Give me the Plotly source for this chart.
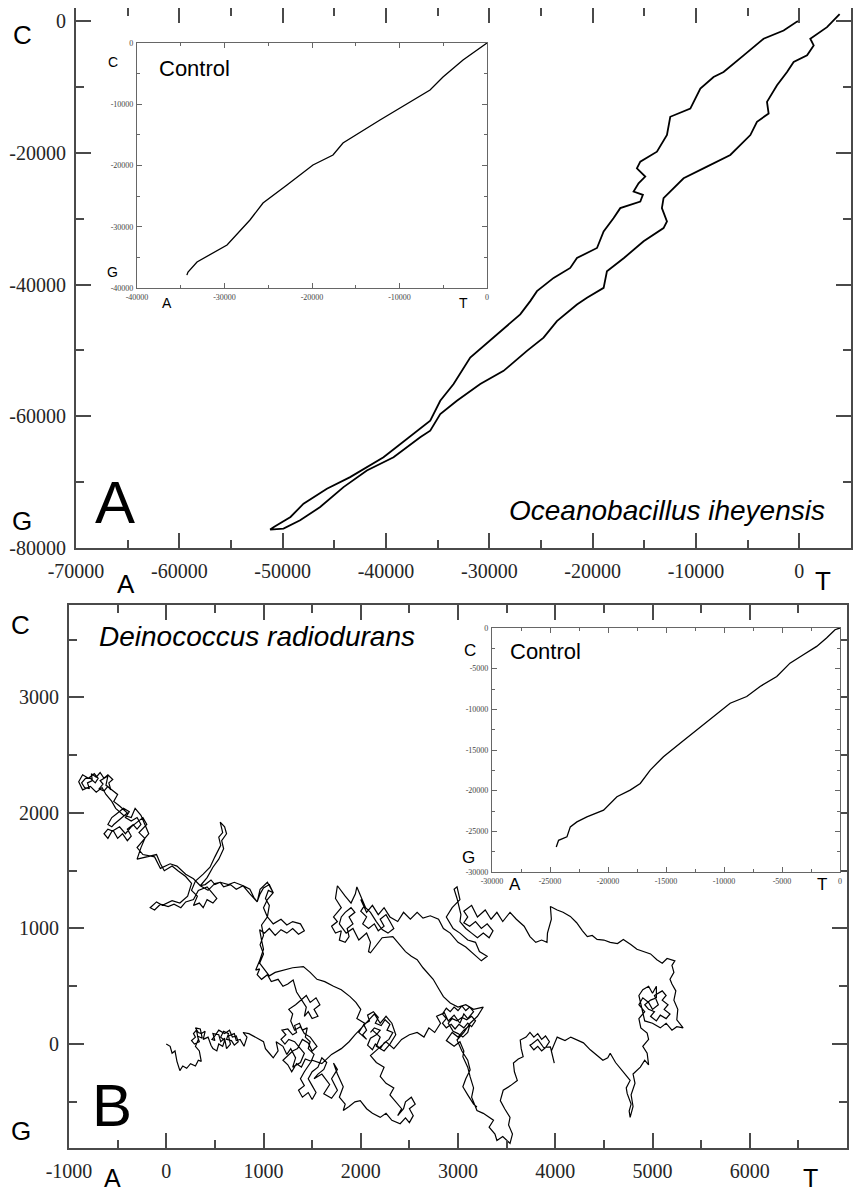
import plotly.graph_objects as go

# page is 862x1197; the html body adds an 8px margin, so the figure is 8px smaller on each axis
PAGE_OFF = 8
W, H = 862 - PAGE_OFF, 1197 - PAGE_OFF

# ---------------- Panel A : Oceanobacillus iheyensis (main walk) ----------------
a_walk_x = [0, -220, -1520, -3460, -5390, -7330, -8300, -9580, -10550, -12490,
            -12810, -13780, -15390, -15720, -14910, -15560, -16040, -15140, -15390, -17330,
            -17970, -18940, -19580, -21520, -22170, -23780, -25390, -26040, -27010, -29260,
            -31850, -33460, -34750, -35720, -37330, -40240, -43470, -45720, -47980, -49240,
            -50850, -51210,
            -49920, -48310, -46370, -44110, -41850, -39270, -36690, -35720, -34750, -33140,
            -30880, -28620, -26360, -24750, -23460, -21520, -20550, -18940, -18620, -16970,
            -15070, -13140, -12810, -13300, -13140, -11200, -8940, -6680, -4740, -4100,
            -2970, -3130, -2160, -1190, -550, 750, 1390, 1060, 2680, 3900]
a_walk_y = [0, -50, -1410, -2670, -5190, -7720, -8470, -10240, -13270, -14520,
            -17290, -19820, -21330, -22340, -23600, -24610, -25870, -26370, -27380, -28390,
            -29900, -31920, -34440, -35960, -37470, -38980, -41000, -42510, -44520, -47550,
            -51080, -55110, -57640, -60670, -62680, -66220, -69240, -71000, -73270, -75290,
            -76800, -77200,
            -77050, -75790, -73780, -70750, -68230, -66220, -63190, -62180, -59650, -57640,
            -55110, -53100, -50070, -48060, -45540, -43020, -42010, -40500, -37970, -35960,
            -33430, -31420, -30410, -28390, -26880, -23860, -22090, -20320, -17290, -15280,
            -14020, -12250, -9730, -7720, -6200, -5190, -3680, -2670, -910, 1060]

# Panel A inset : control
a_ctrl_x = [-34300, -34170, -33140, -29710, -27090, -25600, -22860, -19890, -17600, -16460,
            -12230, -6510, -5030, -2740, 0]
a_ctrl_y = [-37900, -37390, -35750, -32980, -28900, -26120, -23180, -19920, -18290, -16330,
            -12570, -7670, -5550, -2780, 0]

# tick values / labels
a_xticks = [-70000, -60000, -50000, -40000, -30000, -20000, -10000, 0]
a_yticks = [-80000, -60000, -40000, -20000, 0]
a_in_ticks = [-40000, -30000, -20000, -10000, 0]
b_xticks = [-1000, 0, 1000, 2000, 3000, 4000, 5000, 6000, 7000]
b_yticks = [0, 1000, 2000, 3000]
b_in_ticks = [-30000, -25000, -20000, -15000, -10000, -5000, 0]

# ---------------- Panel B : Deinococcus radiodurans (main walk, in segments) ----------------
b_s1_x = [0, 40, 60, 90, 110, 140, 170, 210, 250, 300, 330, 360, 340, 300, 330, 310, 360, 400, 380, 430,
          460, 500, 480, 540, 560, 600, 620, 660, 640, 700, 720, 760, 800, 830, 790, 850, 900, 960, 1000, 1020,
          1060, 1100]
b_s1_y = [0, -20, -80, -60, -150, -230, -190, -210, -170, -190, -140, -150, -60, -20, 40, 120, 90, 110, 40, 60,
          -10, 30, 90, 80, 20, 50, -40, 0, 70, 90, 30, 40, -20, 60, 100, 90, 70, 40, 20, -40,
          -80, -120]

b_s2_x = [1150, 1130, 1200, 1240, 1280, 1330, 1300, 1380, 1420, 1360, 1400, 1460, 1500, 1550, 1480, 1420,
          1380, 1320, 1280, 1300, 1260, 1330, 1380, 1340, 1305, 1250, 1200, 1150, 1080, 1040, 980, 935,
          960, 920, 960, 1000, 980, 960]
b_s2_y = [-60, 20, -20, -90, -40, -120, -200, -160, -80, -20, 40, 10, -60, -20, 60, 90,
          150, 120, 200, 260, 300, 340, 380, 450, 555, 520, 500, 560, 540, 600, 560, 600,
          650, 640, 720, 820, 900, 990]

b_s3a_x = [1010, 1060, 1120, 1180, 1240, 1300, 1360, 1420, 1380, 1300, 1240, 1180, 1100, 1040, 1060, 1020,
           1050, 1100, 1060, 1000, 965, 935, 900, 860, 790, 720, 660, 590, 555, 500, 460, 400, 350]
b_s3a_y = [960, 1000, 940, 990, 960, 1000, 950, 980, 1040, 1060, 1030, 1080, 1040, 1100, 1200, 1260,
           1330, 1310, 1380, 1350, 1300, 1230, 1270, 1340, 1370, 1340, 1380, 1360, 1400, 1380, 1420, 1380, 1370]

b_s3b_x = [420, 480, 540, 590, 570, 620, 600, 555, 580, 540, 560, 500, 450, 380, 300, 260, 320, 280, 340, 380,
           420, 480, 520, 470, 420, 330, 280, 200, 150, 80, 20, -60, -120, -165, -100, -40, 60, 140, 220, 260, 200]
b_s3b_y = [1440, 1530, 1600, 1690, 1760, 1820, 1880, 1920, 1830, 1790, 1720, 1620, 1530, 1470, 1410, 1330, 1280,
           1200, 1220, 1180, 1250, 1220, 1260, 1310, 1360, 1330, 1250, 1230, 1180, 1210, 1190, 1210, 1160, 1180,
           1230, 1200, 1240, 1220, 1280, 1390, 1450]

b_s3c_x = [120, 60, -20, -60, -100, -200, -300, -260, -220, -280, -200, -240, -300, -360, -420, -480, -560, -600,
           -540, -460, -400, -480, -540, -500, -560, -620, -600, -680, -740, -800, -860, -900, -860, -780, -720,
           -660, -620, -560, -520, -440, -360, -320, -260, -220, -180, -240, -300, -240, -120, -60, 40, 110, 200,
           280, 350]
b_s3c_y = [1500, 1540, 1500, 1560, 1640, 1620, 1600, 1700, 1780, 1830, 1900, 1960, 1920, 1880, 1820, 1880, 1840,
           1780, 1900, 1960, 2000, 2060, 2100, 2160, 2200, 2240, 2320, 2280, 2340, 2300, 2330, 2270, 2200, 2230,
           2180, 2220, 2160, 2100, 2040, 1980, 1960, 2040, 1980, 1900, 1820, 1760, 1700, 1640, 1620, 1520, 1560,
           1540, 1470, 1430, 1370]

b_s3d_x = [430, 500, 555, 640, 700, 790, 860, 935, 965, 1040, 1100, 1040, 1000, 1040, 980, 1000, 965, 1000,
           960, 1010, 1060, 1120]
b_s3d_y = [1330, 1390, 1400, 1380, 1400, 1370, 1300, 1230, 1340, 1400, 1310, 1250, 1180, 1100, 1030, 940, 860,
           780, 700, 640, 590, 620]

b_s4_x = [1200, 1300, 1410, 1480, 1550, 1630, 1720, 1800, 1890, 1950, 2000, 1960, 2040, 1980, 2060, 2120, 2200,
          2160, 2240, 2300, 2360, 2320, 2260, 2200, 2140, 2080, 2020, 1940, 1880, 1800,
          1700, 1600, 1500, 1420, 1520, 1600, 1680, 1620, 1700, 1760, 1700, 1760,
          1720, 1760, 1820, 1780, 1840, 1820, 1880, 1940, 1995, 2060, 2120, 2200, 2260, 2320, 2405, 2380, 2420,
          2360, 2300, 2340, 2260, 2200, 2240, 2160, 2100, 2180, 2260, 2340, 2420, 2500, 2580]
b_s4_y = [640, 660, 670, 620, 560, 540, 500, 470, 410, 360, 300, 220, 180, 100, 40, 120, 60,
          -20, -60, 0, 80, 180, 240, 180, 260, 200, 150, 80, 20, -40,
          -90, -170, -140, -240, -300, -260, -350, -430, -470, -400, -300, -220,
          -165, -260, -370, -460, -520, -575, -540, -500, -490, -560, -600, -635, -600, -660, -690, -620, -560,
          -500, -440, -380, -340, -280, -200, -160, -100, -40, 20, -40, 40, 80, 100]

b_s5_x = [2650, 2700, 2760, 2820, 2780, 2860, 2900, 2960, 3020, 3060, 3100, 3160, 3120, 3060, 3000, 2940, 2880,
          2960, 3020, 3060, 3050, 3100, 3125, 3160, 3140, 3195, 3260, 3330, 3365, 3320, 3380, 3400, 3460, 3535,
          3560, 3520, 3535, 3480, 3435, 3465, 3540, 3610, 3580, 3570, 3620, 3670, 3650, 3640, 3700, 3760, 3820,
          3880, 3950, 3980, 3990, 3960, 4020, 4100, 4160, 4225, 4290, 4360, 4420, 4490, 4540, 4565, 4620, 4700,
          4770, 4730, 4740, 4780, 4760, 4770, 4800, 4780, 4820, 4800, 4875, 4920, 4960, 4945, 4900, 4960, 4945]
b_s5_y = [60, 140, 100, 180, 240, 270, 200, 250, 180, 260, 220, 280, 160, 120, 60, 100, 30,
          -20, 20, -60, -110, -200, -285, -380, -460, -575, -600, -635, -660, -720, -780, -835, -800, -860,
          -780, -700, -635, -560, -490, -400, -360, -315, -240, -165, -130, -110, -40, 35, 60, 0, 40,
          -30, -25, -120, -165, -60, 60, 30, 60, 35, 10, -50, -90, -140, -120, -80, -160, -240,
          -315, -380, -430, -520, -580, -635, -540, -440, -340, -260, -200, -140, -180, -80, -20, 40, 95]

b_s6_x = [4880, 4860, 4920, 4860, 4900, 4960, 5000, 5060, 5020, 5100, 5040, 5000, 4960, 4900, 4860, 4920, 5000,
          5080, 5140, 5200, 5250, 5315, 5250, 5260, 5220, 5240, 5200, 5180, 5220, 5200, 5230, 5150, 5100, 5045,
          4980, 4900, 4840, 4780, 4700, 4640, 4565, 4500, 4430, 4380, 4330, 4280, 4220, 4155, 4080, 4020, 3950,
          3960, 3920, 3915, 3860, 3800, 3740, 3680, 3600, 3535]
b_s6_y = [140, 220, 280, 340, 400, 360, 300, 340, 420, 460, 500, 440, 500, 470, 420, 200, 180,
          140, 180, 120, 150, 140, 210, 300, 380, 460, 520, 560, 620, 680, 720, 740, 700, 730,
          780, 800, 820, 860, 905, 870, 880, 900, 905, 940, 930, 980, 1050, 1105, 1140, 1160, 1190,
          1080, 960, 880, 900, 880, 930, 1020, 1080, 1140]

b_s7_x = [3460, 3400, 3340, 3280, 3200, 3140, 3060, 2990, 2960, 2990, 3020, 2940, 2880, 2950, 3020, 3100, 3180,
          3220, 3300, 3240, 3160, 3080, 3000, 2920, 2850, 2800, 2715, 2640, 2580, 2510, 2440, 2380, 2300, 2240,
          2180, 2120, 2060, 2000, 1960, 1945, 1900, 1840, 1760, 1740, 1800, 1720, 1780, 1850, 1920, 1980, 2060,
          2100, 2080, 2100, 2160, 2220, 2330, 2400, 2460, 2520, 2580, 2640, 2700, 2745, 2800, 2850, 2920, 3000,
          3080, 3160, 3260, 3200, 3125, 3060, 2990, 3040, 3100, 3125, 3080, 3050, 3100, 3160, 3195]
b_s7_y = [1060, 1140, 1080, 1160, 1100, 1200, 1150, 1260, 1340, 1360, 1250, 1180, 1100, 1000, 960, 900, 880,
          800, 760, 720, 780, 840, 880, 960, 1000, 1080, 1110, 1090, 1140, 1080, 1140, 1060, 1100, 1180,
          1120, 1200, 1140, 1250, 1360, 1300, 1220, 1280, 1370, 1260, 1180, 1100, 1040, 960, 1000, 900, 960,
          880, 800, 790, 860, 920, 930, 860, 800, 760, 730, 660, 600, 560, 480, 410, 355, 320,
          340, 300, 320, 240, 180, 100, 35, -60, -140, -225, -300, -370, -440, -520, -545]

# dense tangles of the walk (inserted into the segments above)
t_d0_x = [280, 300, 260, 290, 340, 320, 370, 350, 300, 330]
t_d0_y = [90, 60, 30, 0, 20, 70, 50, 130, 140, 100]
t_d_x = [480, 520, 540, 580, 600, 560, 590, 640, 620, 670, 700, 740, 720, 680, 650, 600, 540, 500, 470]
t_d_y = [-40, -60, 0, -20, 30, 60, 110, 90, 40, 30, -10, 20, 70, 60, 120, 90, 120, 70, 40]
t_e_x = [1320, 1260, 1220, 1180, 1230, 1190, 1250, 1300, 1340, 1320, 1370, 1400, 1450, 1430, 1480, 1460,
         1520, 1490, 1430, 1390, 1340, 1290, 1250, 1200, 1250, 1300, 1350]
t_e_y = [20, 40, 0, 40, 80, 120, 130, 80, 100, 160, 180, 120, 140, 60, 20, -40,
         -90, -150, -130, -200, -170, -240, -180, -140, -100, -60, -40]
t_m2_x = [1440, 1480, 1540, 1580, 1520, 1560, 1500, 1460, 1420, 1440]
t_m2_y = [420, 360, 400, 340, 300, 240, 220, 280, 240, 320]
t_b_x = [-640, -600, -540, -500, -450, -400, -360, -400, -340, -300, -260, -300, -360, -420, -380, -440, -500,
         -560, -600, -560]
t_b_y = [1820, 1860, 1840, 1780, 1820, 1760, 1800, 1860, 1900, 1860, 1900, 1960, 1930, 1960, 2010, 2040, 2000,
         1960, 1900, 1880]
t_a_x = [-650, -690, -640, -600, -570, -590, -550, -600, -640, -680, -720, -770, -760, -810, -790, -840, -870,
         -830, -780, -730, -700]
t_a_y = [2250, 2210, 2190, 2230, 2200, 2260, 2290, 2330, 2300, 2350, 2310, 2340, 2280, 2260, 2210, 2220, 2260,
         2300, 2300, 2260, 2300]
t_g_x = [2020, 2060, 2030, 2090, 2070, 2130, 2180, 2150, 2210, 2250, 2300, 2270, 2330, 2290, 2240, 2200, 2150,
         2120, 2070, 2100, 2160, 2200, 2140, 2100]
t_g_y = [80, 120, 170, 200, 250, 280, 230, 180, 160, 210, 170, 120, 100, 40, 10, -40, 0,
         -50, -10, 50, 80, 120, 140, 100]
t_f_x = [1380, 1420, 1360, 1400, 1460, 1500, 1540, 1500, 1460, 1500, 1560, 1600, 1650, 1620, 1560, 1520]
t_f_y = [-300, -360, -400, -460, -420, -480, -420, -360, -300, -240, -200, -120, -160, -220, -260, -300]
t_n_x = [2460, 2500, 2540, 2500, 2560, 2520, 2460, 2440]
t_n_y = [-640, -680, -620, -560, -520, -460, -500, -560]
t_i_x = [3120, 3080, 3040, 3000, 2960, 2920, 2880, 2840, 2880, 2840, 2880, 2930, 2970, 3010, 3060, 3100, 3140,
         3180, 3140, 3090, 3040, 2990, 2940, 2900, 2950, 3000, 3050, 3100]
t_i_y = [320, 290, 330, 290, 320, 280, 310, 260, 220, 180, 140, 170, 130, 170, 140, 180, 150,
         200, 240, 210, 230, 200, 220, 180, 110, 90, 60, 100]
t_l_x = [3740, 3780, 3820, 3860, 3900, 3940, 3900, 3860, 3820, 3780, 3740]
t_l_y = [100, 60, 90, 40, 70, 20, -30, -60, -20, -50, -10]
t_k_x = [5140, 5100, 5160, 5120, 5180, 5140, 5080, 5040, 4980, 5020, 4960, 4920, 4980, 5040]
t_k_y = [420, 380, 340, 300, 260, 220, 250, 200, 240, 280, 300, 340, 380, 400]
t_j_x = [3100, 3060, 3120, 3180, 3240, 3300, 3360, 3320, 3260, 3200, 3140, 3080, 3020, 3030]
t_j_y = [1100, 1050, 1020, 1060, 1000, 1040, 980, 920, 960, 920, 960, 1000, 1060, 1120]
t_h_x = [2040, 2000, 2060, 2020, 2080, 2140, 2180, 2240, 2200, 2260, 2300, 2340, 2280, 2220, 2160, 2100, 2050]
t_h_y = [1200, 1150, 1100, 1040, 1000, 1040, 980, 1020, 1080, 1120, 1060, 1000, 960, 990, 1060, 1140, 1180]
t_h2_x = [1760, 1700, 1740, 1800, 1780, 1840, 1880, 1860, 1920, 1880, 1940, 1900, 1840, 1800]
t_h2_y = [1060, 1020, 960, 980, 900, 880, 930, 1000, 1040, 1100, 1140, 1180, 1140, 1100]

# assemble the walk in order
b_walk_x = (b_s1_x[:16] + t_d0_x + b_s1_x[16:21] + t_d_x + b_s1_x[21:]
            + b_s2_x[:10] + t_e_x + b_s2_x[10:23] + t_m2_x + b_s2_x[23:]
            + b_s3a_x + b_s3b_x
            + b_s3c_x[:18] + t_b_x + b_s3c_x[18:28] + t_a_x + b_s3c_x[28:]
            + b_s3d_x
            + b_s4_x[:15] + t_g_x + b_s4_x[15:34] + t_f_x + b_s4_x[34:57] + t_n_x + b_s4_x[57:]
            + b_s5_x[:12] + t_i_x + b_s5_x[12:49] + t_l_x + b_s5_x[49:]
            + b_s6_x[:10] + t_k_x + b_s6_x[10:]
            + b_s7_x[:7] + t_j_x + b_s7_x[7:38] + t_h_x + b_s7_x[38:46] + t_h2_x + b_s7_x[46:])
b_walk_y = (b_s1_y[:16] + t_d0_y + b_s1_y[16:21] + t_d_y + b_s1_y[21:]
            + b_s2_y[:10] + t_e_y + b_s2_y[10:23] + t_m2_y + b_s2_y[23:]
            + b_s3a_y + b_s3b_y
            + b_s3c_y[:18] + t_b_y + b_s3c_y[18:28] + t_a_y + b_s3c_y[28:]
            + b_s3d_y
            + b_s4_y[:15] + t_g_y + b_s4_y[15:34] + t_f_y + b_s4_y[34:57] + t_n_y + b_s4_y[57:]
            + b_s5_y[:12] + t_i_y + b_s5_y[12:49] + t_l_y + b_s5_y[49:]
            + b_s6_y[:10] + t_k_y + b_s6_y[10:]
            + b_s7_y[:7] + t_j_y + b_s7_y[7:38] + t_h_y + b_s7_y[38:46] + t_h2_y + b_s7_y[46:])

# Panel B inset : control
b_ctrl_x = [-24460, -24260, -23540, -23250, -22680, -21820, -20380, -19810, -19230, -18090, -17220, -16360,
            -15220, -13780, -12340, -10620, -9470, -8040, -6890, -5450, -4310, -3160, -2010, -1160, -430, 0]
b_ctrl_y = [-26920, -26100, -25680, -24450, -23840, -23220, -22400, -21580, -20750, -19930, -19110, -17470,
            -15820, -14180, -12530, -10480, -9250, -8420, -7190, -5960, -4320, -3290, -2260, -1230, -210, 0]

# ---------------- helpers (page pixel -> paper) ----------------
def px(x):
    return min(max((x - PAGE_OFF) / W, 0.0), 1.0)

def py(y):
    return min(max(1 - (y - PAGE_OFF) / H, 0.0), 1.0)

SERIF = "Liberation Serif"
SANS = "Liberation Sans"
AXC = "#4a4a4a"

def main_axis(rng, ticks, minor_dtick, domain, anchor):
    return dict(range=rng, domain=domain, anchor=anchor, automargin=False,
                tickmode="array", tickvals=ticks, ticktext=[str(v) for v in ticks],
                showgrid=False, zeroline=False, showline=True, linecolor=AXC, linewidth=2,
                mirror="allticks", ticks="inside", ticklen=15, tickwidth=1.6, tickcolor=AXC,
                minor=dict(tickmode="linear", ticks="inside", ticklen=8, tickwidth=1.6, tickcolor=AXC,
                           dtick=minor_dtick, tick0=0, showgrid=False),
                tickfont=dict(family=SERIF, size=20, color="#262626"), ticklabelstandoff=4)

def inset_axis(rng, ticks, minor_dtick, domain, anchor):
    return dict(range=rng, domain=domain, anchor=anchor, automargin=False,
                tickmode="array", tickvals=ticks, ticktext=[str(v) for v in ticks],
                showgrid=False, zeroline=False, showline=True, linecolor="#666", linewidth=1.2,
                mirror="allticks", ticks="inside", ticklen=5, tickwidth=1, tickcolor="#666",
                minor=dict(tickmode="linear", ticks="inside", ticklen=3, tickwidth=1, tickcolor="#666",
                           dtick=minor_dtick, tick0=0, showgrid=False),
                tickfont=dict(family=SERIF, size=8, color="#444"), ticklabelstandoff=1)

fig = go.Figure()
fig.add_trace(go.Scatter(x=a_walk_x, y=a_walk_y, mode="lines", line=dict(color="black", width=1.8),
                         xaxis="x", yaxis="y", hoverinfo="skip"))
fig.add_trace(go.Scatter(x=a_ctrl_x, y=a_ctrl_y, mode="lines", line=dict(color="black", width=1.3),
                         xaxis="x2", yaxis="y2", hoverinfo="skip"))
fig.add_trace(go.Scatter(x=b_walk_x, y=b_walk_y, mode="lines", line=dict(color="black", width=1.2),
                         xaxis="x3", yaxis="y3", hoverinfo="skip"))
fig.add_trace(go.Scatter(x=b_ctrl_x, y=b_ctrl_y, mode="lines", line=dict(color="black", width=1.3),
                         xaxis="x4", yaxis="y4", hoverinfo="skip"))

fig.update_layout(
    width=W, height=H, autosize=False, showlegend=False,
    margin=dict(l=0, r=0, t=0, b=0, autoexpand=False),
    paper_bgcolor="white", plot_bgcolor="white",
    xaxis=main_axis([-70000, 5000], a_xticks, 5000, [px(76), px(851)], "y"),
    yaxis=main_axis([-80000, 2000], a_yticks, 10000, [py(548), py(7)], "x"),
    xaxis2=inset_axis([-40000, 0], a_in_ticks, 5000, [px(137), px(487)], "y2"),
    yaxis2=inset_axis([-40000, 0], a_in_ticks, 5000, [py(288), py(43)], "x2"),
    xaxis3=main_axis([-1000, 7000], b_xticks, 500, [px(69), px(847)], "y3"),
    yaxis3=main_axis([-900, 3800], b_yticks, 500, [py(1148), py(605)], "x3"),
    xaxis4=inset_axis([-30000, 0], b_in_ticks, 2500, [px(492), px(840)], "y4"),
    yaxis4=inset_axis([-30000, 0], b_in_ticks, 2500, [py(872), py(628)], "x4"),
)

labels = [
    # text, page x px, page y px, size, anchor, italic
    ("C", 22, 35, 26, "center", False),
    ("G", 22, 521, 26, "center", False),
    ("A", 126, 584, 26, "center", False),
    ("T", 823, 581, 26, "center", False),
    ("A", 115, 502, 60, "center", False),
    ("Oceanobacillus iheyensis", 827, 510, 28, "right", True),
    ("Control", 157, 68, 22, "left", False),
    ("C", 113, 62, 14, "center", False),
    ("G", 112, 272, 14, "center", False),
    ("A", 167, 303, 14, "center", False),
    ("T", 463, 303, 14, "center", False),
    ("C", 20, 625, 26, "center", False),
    ("G", 21, 1131, 26, "center", False),
    ("A", 112, 1178, 25, "center", False),
    ("T", 810, 1178, 25, "center", False),
    ("B", 112, 1105, 60, "center", False),
    ("Deinococcus radiodurans", 97, 636, 28, "left", True),
    ("Control", 508, 651, 22, "left", False),
    ("C", 470, 650, 17, "center", False),
    ("G", 468, 857, 17, "center", False),
    ("A", 515, 884, 17, "center", False),
    ("T", 822, 884, 17, "center", False),
]
for text, x, y, size, anchor, ital in labels:
    fig.add_annotation(x=px(x), y=py(y), xref="paper", yref="paper", showarrow=False,
                       text=f"<i>{text}</i>" if ital else text, xanchor=anchor, yanchor="middle",
                       font=dict(family=SANS, size=size, color="black"))

fig.write_html("out.html")
